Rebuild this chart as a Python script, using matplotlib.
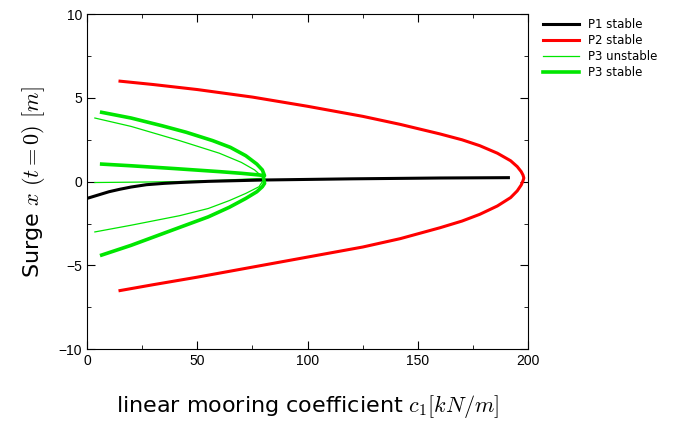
import numpy as np
import matplotlib
matplotlib.use("Agg")
import matplotlib.pyplot as plt

plt.rcParams['mathtext.fontset'] = 'cm'

# P1 stable (black)
p1_c = [0, 5, 10, 15, 20, 27, 35, 42, 55, 80, 120, 160, 191]
p1_x = [-1.0, -0.8, -0.6, -0.45, -0.32, -0.18, -0.1, -0.05, 0.02, 0.1, 0.17, 0.22, 0.24]

# P2 stable (red), upper and lower branch meeting at the fold
p2_c = [15, 30, 50, 75, 100, 125, 142, 160, 170, 178, 186, 192, 195, 196.8, 197.6, 198]
p2_up = [6.0, 5.8, 5.5, 5.05, 4.5, 3.9, 3.42, 2.85, 2.5, 2.15, 1.7, 1.25, 0.9, 0.6, 0.4, 0.22]
p2_lo = [-6.5, -6.15, -5.7, -5.1, -4.5, -3.9, -3.4, -2.75, -2.35, -1.95, -1.45, -0.95, -0.55, -0.2, 0.05, 0.22]

# P3 stable (green thick)
p3s_up_c = [6.7, 20, 34, 45, 57, 65, 72, 77, 79.5, 80.5, 78, 70, 60, 40, 20, 6.7]
p3s_up_x = [4.14, 3.8, 3.34, 2.95, 2.45, 2.05, 1.55, 1.05, 0.7, 0.36, 0.4, 0.5, 0.6, 0.78, 0.95, 1.05]
p3s_lo_c = [6.7, 20, 42, 55, 64.5, 72, 77, 79.5, 80.5, 80]
p3s_lo_x = [-4.38, -3.8, -2.73, -2.1, -1.53, -1.0, -0.6, -0.3, -0.1, 0.25]

# P3 unstable (green thin)
p3u_up_c = [3.6, 20, 42, 60, 70, 76, 79]
p3u_up_x = [3.8, 3.3, 2.45, 1.7, 1.15, 0.7, 0.35]
p3u_mid_c = [3.6, 20, 40, 60, 80]
p3u_mid_x = [-0.05, -0.03, 0.0, 0.08, 0.2]
p3u_lo_c = [3.6, 20, 42, 55, 64.5, 72, 78, 80]
p3u_lo_x = [-3.0, -2.6, -2.03, -1.6, -1.13, -0.7, -0.3, 0.1]

fig = plt.figure(figsize=(6.79, 4.29), dpi=100)
ax = fig.add_axes([0.128, 0.186, 0.650, 0.781])

green = '#00e600'
ax.plot(p3u_mid_c, p3u_mid_x, color=green, lw=0.9)
ax.plot(p1_c, p1_x, color='black', lw=2.2, label='P1 stable')
ax.plot(p2_c + p2_c[::-1], p2_up + p2_lo[::-1], color='#ff0000', lw=2.2, label='P2 stable')
ax.plot(p3u_up_c, p3u_up_x, color=green, lw=0.9, label='P3 unstable')
ax.plot(p3u_lo_c, p3u_lo_x, color=green, lw=0.9)
ax.plot(p3s_up_c, p3s_up_x, color=green, lw=2.6, label='P3 stable')
ax.plot(p3s_lo_c, p3s_lo_x, color=green, lw=2.6)

ax.set_xlim(0, 200)
ax.set_ylim(-10, 10)
ax.set_xticks([0, 50, 100, 150, 200])
ax.set_xticks([25, 75, 125, 175], minor=True)
ax.set_yticks([-10, -5, 0, 5, 10])
ax.set_yticks([-7.5, -2.5, 2.5, 7.5], minor=True)
ax.tick_params(which='both', direction='in', top=True, right=True, labelsize=10)
ax.tick_params(which='major', length=6)
ax.tick_params(which='minor', length=3)
for lab in ax.get_xticklabels() + ax.get_yticklabels():
    lab.set_family('Liberation Sans')

ax.set_xlabel('linear mooring coefficient $c_1[kN/m]$', fontsize=16, labelpad=18)
ax.set_ylabel('Surge $x$ $(t=0)$ $[m]$', fontsize=16, labelpad=8)

ax.legend(loc='upper left', bbox_to_anchor=(1.01, 1.02), frameon=False,
          fontsize=8.5, handlelength=3, labelspacing=0.25)

fig.savefig('out.png', dpi=100)
